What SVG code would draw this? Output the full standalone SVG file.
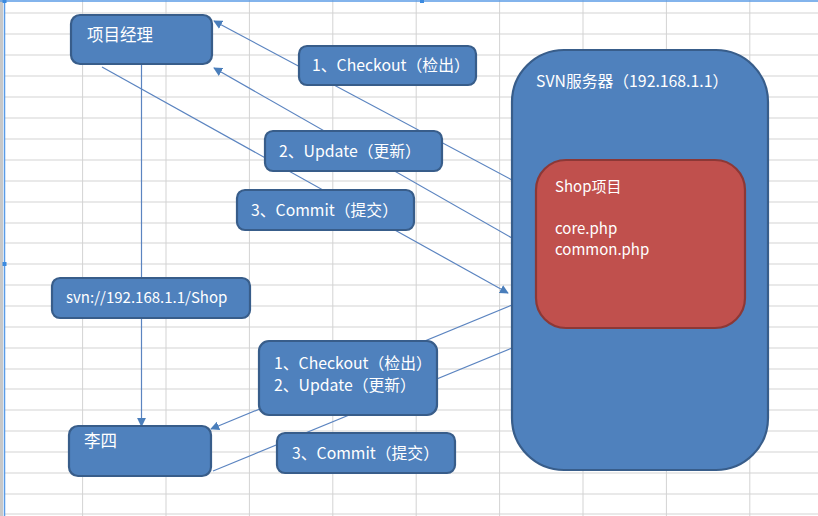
<svg xmlns="http://www.w3.org/2000/svg" width="818" height="516" viewBox="0 0 818 516">
<defs>
<style>
.grid line{stroke:#d3d3d3;stroke-width:1}
.box{fill:#4f81bd;stroke:#385d8a;stroke-width:2.2}
.red{fill:#c0504d;stroke:#8c3836;stroke-width:2.2}
.t{font-family:"Noto Sans CJK SC","Liberation Sans",sans-serif;fill:#ffffff;font-size:15px}
.m{font-size:15.8px}
.big{font-size:16.5px}
.conn line{stroke:#5b84c0;stroke-width:1.2}
</style>
<marker id="ah" viewBox="0 0 10 10" refX="9" refY="5" markerWidth="9" markerHeight="9" markerUnits="userSpaceOnUse" orient="auto">
<path d="M0,0 L10,5 L0,10 z" fill="#4a7ebb"/>
</marker>
</defs>
<rect x="0" y="0" width="818" height="516" fill="#ffffff"/>
<g class="grid">
<line x1="5" y1="13" x2="818" y2="13"/><line x1="5" y1="34" x2="818" y2="34"/><line x1="5" y1="55" x2="818" y2="55"/><line x1="5" y1="76" x2="818" y2="76"/><line x1="5" y1="97" x2="818" y2="97"/><line x1="5" y1="118" x2="818" y2="118"/><line x1="5" y1="139" x2="818" y2="139"/><line x1="5" y1="160" x2="818" y2="160"/><line x1="5" y1="181" x2="818" y2="181"/><line x1="5" y1="202" x2="818" y2="202"/><line x1="5" y1="223" x2="818" y2="223"/><line x1="5" y1="243" x2="818" y2="243"/><line x1="5" y1="264" x2="818" y2="264"/><line x1="5" y1="285" x2="818" y2="285"/><line x1="5" y1="306" x2="818" y2="306"/><line x1="5" y1="327" x2="818" y2="327"/><line x1="5" y1="348" x2="818" y2="348"/><line x1="5" y1="369" x2="818" y2="369"/><line x1="5" y1="389" x2="818" y2="389"/><line x1="5" y1="410" x2="818" y2="410"/><line x1="5" y1="431" x2="818" y2="431"/><line x1="5" y1="452" x2="818" y2="452"/><line x1="5" y1="473" x2="818" y2="473"/><line x1="5" y1="494" x2="818" y2="494"/><line x1="5" y1="514" x2="818" y2="514"/>
<line x1="82.6" y1="0" x2="82.6" y2="516"/><line x1="166" y1="0" x2="166" y2="516"/><line x1="249.4" y1="0" x2="249.4" y2="516"/><line x1="332.8" y1="0" x2="332.8" y2="516"/><line x1="416.2" y1="0" x2="416.2" y2="516"/><line x1="499.6" y1="0" x2="499.6" y2="516"/><line x1="583" y1="0" x2="583" y2="516"/><line x1="666.4" y1="0" x2="666.4" y2="516"/><line x1="749.8" y1="0" x2="749.8" y2="516"/>
</g>
<rect x="0" y="0" width="3" height="516" fill="#c8c8c8"/>
<line x1="4.5" y1="0" x2="4.5" y2="516" stroke="#5a9be6" stroke-width="1.5"/>
<line x1="0" y1="1" x2="818" y2="1" stroke="#5a9be6" stroke-width="1.5"/>
<rect x="2.5" y="-1" width="4" height="4" fill="#3c8be0"/>
<rect x="420" y="-1" width="4" height="4" fill="#3c8be0"/>
<rect x="2.5" y="262" width="4" height="4" fill="#3c8be0"/>

<g id="connectors" class="conn">
<line x1="512" y1="180" x2="214" y2="21" marker-end="url(#ah)"/>
<line x1="512" y1="238" x2="214" y2="68" marker-end="url(#ah)"/>
<line x1="102" y1="67" x2="508" y2="293" marker-end="url(#ah)"/>
<line x1="141.5" y1="64" x2="141.5" y2="426" marker-end="url(#ah)"/>
<line x1="512" y1="305" x2="211" y2="429" marker-end="url(#ah)"/>
<line x1="213" y1="471" x2="512" y2="348"/>
</g>

<g id="svn-server">
<rect class="box" x="512" y="50" width="256" height="420" rx="52" ry="52"/>
<text class="t m" x="536" y="87">SVN服务器（192.168.1.1）</text>
</g>
<g id="shop">
<rect class="red" x="536" y="160" width="209" height="168" rx="30" ry="30"/>
<text class="t" x="555" y="192">Shop项目</text>
<text class="t" x="555" y="234">core.php</text>
<text class="t" x="555" y="255">common.php</text>
</g>
<g id="pm">
<rect class="box" x="71" y="15" width="141" height="49" rx="9" ry="9"/>
<text class="t big" x="87" y="41">项目经理</text>
</g>
<g id="checkout1">
<rect class="box" x="299" y="46" width="177" height="39" rx="8" ry="8"/>
<text class="t m" x="312" y="71">1、Checkout（检出）</text>
</g>
<g id="update1">
<rect class="box" x="265" y="131" width="177" height="40" rx="8" ry="8"/>
<text class="t m" x="279" y="157">2、Update（更新）</text>
</g>
<g id="commit1">
<rect class="box" x="237" y="190" width="177" height="40" rx="8" ry="8"/>
<text class="t m" x="251" y="216">3、Commit（提交）</text>
</g>
<g id="url">
<rect class="box" x="52" y="278" width="198" height="40" rx="8" ry="8"/>
<text class="t" x="66" y="303">svn://192.168.1.1/Shop</text>
</g>
<g id="checkout2">
<rect class="box" x="259" y="341" width="178" height="74" rx="10" ry="10"/>
<text class="t m" x="274" y="369">1、Checkout（检出）</text>
<text class="t m" x="274" y="391">2、Update（更新）</text>
</g>
<g id="lisi">
<rect class="box" x="69" y="426" width="142" height="50" rx="9" ry="9"/>
<text class="t big" x="84" y="447">李四</text>
</g>
<g id="commit2">
<rect class="box" x="277" y="433" width="178" height="40" rx="8" ry="8"/>
<text class="t m" x="292" y="459">3、Commit（提交）</text>
</g>
</svg>
